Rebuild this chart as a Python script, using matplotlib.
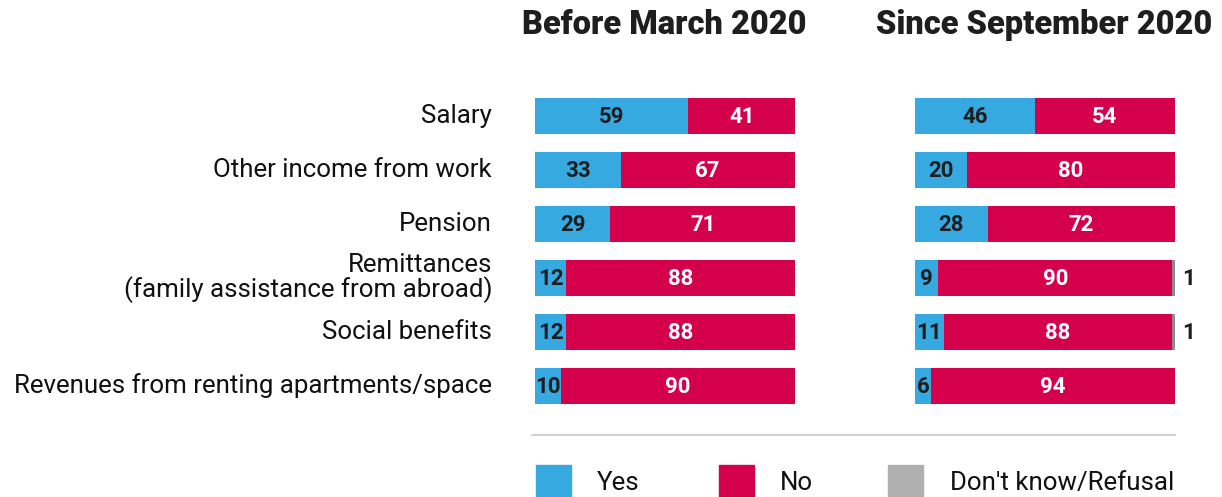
import matplotlib.pyplot as plt
import numpy as np

plt.rcParams['font.family'] = ['Roboto', 'DejaVu Sans']

categories = ["Salary", "Other income from work", "Pension",
              "Remittances\n(family assistance from abroad)",
              "Social benefits", "Revenues from renting apartments/space"]
periods = ["Before March 2020", "Since September 2020"]
yes_vals = [[59, 33, 29, 12, 12, 10], [46, 20, 28, 9, 11, 6]]
no_vals = [[41, 67, 71, 88, 88, 90], [54, 80, 72, 90, 88, 94]]
dk_vals = [[0, 0, 0, 0, 0, 0], [0, 0, 0, 1, 1, 0]]
legend_labels = ["Yes", "No", "Don't know/Refusal"]

BLUE = "#36a9e1"
RED = "#d5004c"
GRAY = "#8c8c8c"
LEGEND_GRAY = "#b0b0b0"
DARK = "#1e1e1e"

W, H = 1222, 497
fig = plt.figure(figsize=(W / 100, H / 100), dpi=100)


def px_axes(x0, y_top, w, h):
    return fig.add_axes([x0 / W, 1 - (y_top + h) / H, w / W, h / H])


row_h = 54
top = 89
n = len(categories)
y = np.arange(n)

for k, x0 in enumerate([535, 915]):
    ax = px_axes(x0, top, 260, row_h * n)
    yes = np.array(yes_vals[k])
    no = np.array(no_vals[k])
    dk = np.array(dk_vals[k])
    ax.barh(y, yes, height=0.67, color=BLUE)
    ax.barh(y, no, left=yes, height=0.67, color=RED)
    ax.barh(y, dk, left=yes + no, height=0.67, color=GRAY)
    for i in range(n):
        ax.text(yes[i] / 2, i + 0.02, str(yes[i]), ha="center", va="center",
                fontsize=16, fontweight="bold", color=DARK)
        ax.text(yes[i] + no[i] / 2, i + 0.02, str(no[i]), ha="center",
                va="center", fontsize=16, fontweight="bold", color="white")
        if dk[i] > 0:
            ax.text(yes[i] + no[i] + dk[i] + 2.8, i + 0.02, str(dk[i]),
                    ha="left", va="center", fontsize=16, fontweight="bold",
                    color=DARK)
    ax.set_xlim(0, 100)
    ax.set_ylim(n - 0.5, -0.5)
    ax.axis("off")

    fig.text((x0 + 129) / W, 1 - 25 / H, periods[k], ha="center",
             va="center", fontsize=23.5, fontweight=900, color=DARK)

# category labels on the left
for i, cat in enumerate(categories):
    fig.text(492 / W, 1 - (top + row_h * (i + 0.5)) / H, cat, ha="right",
             va="center", fontsize=18.6, color="#111111", linespacing=0.92)

# separator line
fig.add_artist(plt.Line2D([532 / W, 1175 / W], [1 - 435 / H, 1 - 435 / H],
                          color="#c8c8c8", linewidth=1.2))

# legend
for x_sq, x_txt, lab, col in zip([536, 719, 888], [597, 780, 950],
                                 legend_labels, [BLUE, RED, LEGEND_GRAY]):
    fig.add_artist(plt.Rectangle((x_sq / W, 1 - 497 / H), 35 / W, 32 / H,
                                 color=col, transform=fig.transFigure))
    fig.text(x_txt / W, 1 - 483 / H, lab, ha="left", va="center",
             fontsize=18.6, color="#111111")

fig.savefig("out.png", dpi=100)
